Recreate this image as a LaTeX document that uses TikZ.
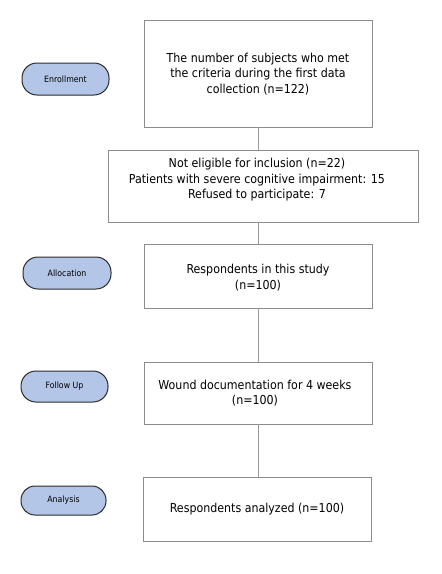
\documentclass[tikz,border=0pt]{standalone}
\usepackage{fontspec}
\setmainfont{DejaVu Sans Condensed}
\definecolor{ovalfill}{HTML}{B4C6E7}
\definecolor{ovaldraw}{HTML}{2B2B2B}
\definecolor{boxdraw}{HTML}{8C8C8C}
\definecolor{linecol}{HTML}{9A9A9A}
\begin{document}
\begin{tikzpicture}[x=1pt,y=1pt,
  stagebox/.style={draw=ovaldraw, fill=ovalfill, rounded corners=15pt, line width=1pt, inner sep=0pt, font=\fontsize{8.7}{9}\selectfont},
  flowbox/.style={draw=boxdraw, line width=0.8pt, inner sep=0pt, fill=white},
  flowtext/.style={align=center, font=\fontsize{12.3}{15.5}\selectfont, inner sep=0pt},
  conn/.style={draw=linecol, line width=0.9pt}]
\useasboundingbox (0,0) rectangle (442,-574);
% stage ovals
\node[stagebox, minimum width=87pt, minimum height=32pt] (enr) at (65.5,-79) {Enrollment};
\node[stagebox, minimum width=88pt, minimum height=32pt] (alo) at (67,-273) {Allocation};
\node[stagebox, minimum width=87pt, minimum height=31pt] (fol) at (64.5,-386.5) {Follow Up};
\node[stagebox, minimum width=85pt, minimum height=29pt, rounded corners=14pt] (ana) at (63.5,-500.5) {Analysis};
% flow boxes
\node[flowbox, minimum width=228pt, minimum height=107pt] (b1) at (258,-73.5) {};
\node[flowbox, minimum width=310pt, minimum height=72pt] (b2) at (263,-186) {};
\node[flowbox, minimum width=228pt, minimum height=64pt] (b3) at (258,-276) {};
\node[flowbox, minimum width=228pt, minimum height=62pt] (b4) at (258,-393) {};
\node[flowbox, minimum width=228pt, minimum height=64pt] (b5) at (257,-509) {};
% connectors
\draw[conn] (b1.south) -- (b1.south |- b2.north);
\draw[conn] (b1.south |- b2.south) -- (b1.south |- b3.north);
\draw[conn] (b3.south) -- (b4.north);
\draw[conn] (b4.south) -- (b4.south |- b5.north);
% texts
\node[flowtext] (t1) at (258,-74) {The number of subjects who met\\the criteria during the first data\\collection (n=122)};
\node[flowtext] (t2) at (257,-180) {Not eligible for inclusion (n=22)\\Patients with severe cognitive impairment: 15\\Refused to participate: 7};
\node[flowtext] (t3) at (258,-277.5) {Respondents in this study\\(n=100)};
\node[flowtext] (t4) at (255,-393) {Wound documentation for 4 weeks\\(n=100)};
\node[flowtext] (t5) at (257,-509) {Respondents analyzed (n=100)};
\end{tikzpicture}
\end{document}
